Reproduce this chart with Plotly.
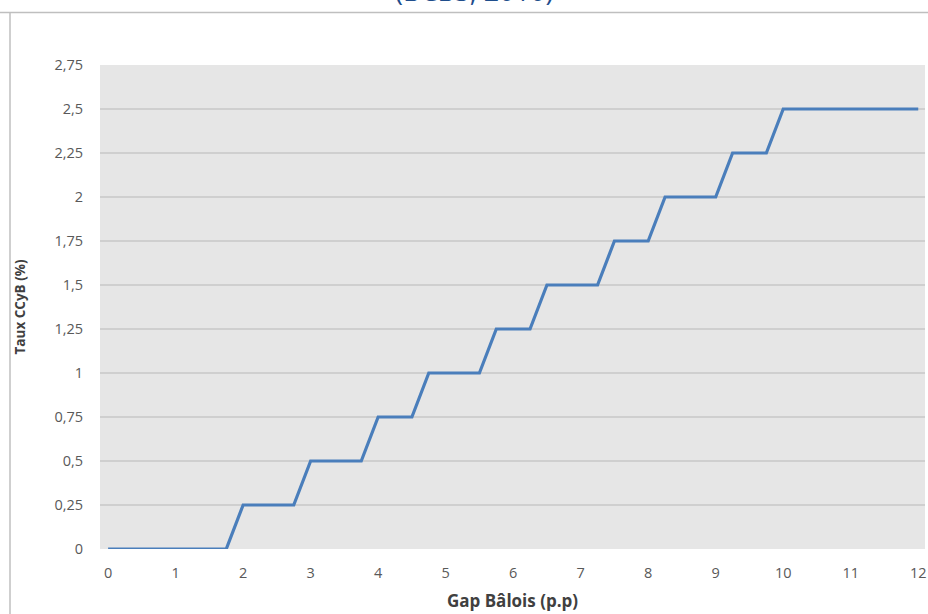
import plotly.graph_objects as go

# Data: CCyB rate as a function of Basel gap (step schedule)
gap_x = [0, 1.75, 2, 2.75, 3, 3.75, 4, 4.5, 4.75, 5.5, 5.75, 6.25, 6.5, 7.25,
         7.5, 8, 8.25, 9, 9.25, 9.75, 10, 12]
ccyb_y = [0, 0, 0.25, 0.25, 0.5, 0.5, 0.75, 0.75, 1, 1, 1.25, 1.25, 1.5, 1.5,
          1.75, 1.75, 2, 2, 2.25, 2.25, 2.5, 2.5]

x_ticks = list(range(0, 13))
y_ticks = [0, 0.25, 0.5, 0.75, 1, 1.25, 1.5, 1.75, 2, 2.25, 2.5, 2.75]
y_tick_labels = ["0", "0,25", "0,5", "0,75", "1", "1,25", "1,5", "1,75", "2",
                 "2,25", "2,5", "2,75"]

fig = go.Figure()
fig.add_trace(go.Scatter(
    x=gap_x, y=ccyb_y, mode="lines",
    line=dict(color="#4a7ebb", width=3.2),
    hoverinfo="skip", showlegend=False,
))

L, R, T, B = 100, 3, 65, 65
W, H = 928, 614
pw = W - L - R
ph = H - T - B

fig.update_layout(
    width=W, height=H,
    margin=dict(l=L, r=R, t=T, b=B, autoexpand=False),
    paper_bgcolor="white",
    plot_bgcolor="#e6e6e6",
    font=dict(family="Open Sans", color="#595959", size=14),
    xaxis=dict(
        range=[-0.12, 12.1],
        tickmode="array", tickvals=x_ticks,
        showgrid=False, zeroline=False, showline=False,
        ticks="", ticklabelstandoff=13,
        tickfont=dict(size=14.5, color="#595959"),
        title=dict(text="<b>Gap Bâlois (p.p)</b>", standoff=14,
                   font=dict(size=17, color="#404040")),
        fixedrange=True,
    ),
    yaxis=dict(
        range=[0, 2.75],
        tickmode="array", tickvals=y_ticks, ticktext=y_tick_labels,
        showgrid=True, gridcolor="#cfcfcf", gridwidth=1.3,
        zeroline=False, showline=False,
        ticks="", ticklabelstandoff=16,
        tickfont=dict(size=14.5, color="#595959"),
        title=dict(text="<b>Taux CCyB (%)</b>", standoff=25,
                   font=dict(size=13.5, color="#404040")),
        fixedrange=True,
    ),
)

def px_to_paper_x(px):
    return (px - L) / pw

def py_to_paper_y(py):
    return 1 - (py - T) / ph

# Outer chart border (partially visible): top and left edges
fig.add_shape(type="line", xref="paper", yref="paper",
              x0=px_to_paper_x(0), x1=px_to_paper_x(W),
              y0=py_to_paper_y(12.5), y1=py_to_paper_y(12.5),
              line=dict(color="#bfbfbf", width=1.5))
fig.add_shape(type="line", xref="paper", yref="paper",
              x0=px_to_paper_x(10), x1=px_to_paper_x(10),
              y0=py_to_paper_y(12.5), y1=py_to_paper_y(H),
              line=dict(color="#bfbfbf", width=1.5))

# Partially cut-off caption at top
fig.add_annotation(
    text="(BCBS, 2010)", xref="paper", yref="paper",
    x=px_to_paper_x(474), y=py_to_paper_y(-10),
    xanchor="center", yanchor="middle", showarrow=False,
    font=dict(family="Open Sans", size=27, color="#1f4e8c"),
)

fig.write_html(
    "out.html",
    config={"displayModeBar": False, "staticPlot": True},
    post_script="document.body.style.margin='0';document.body.style.padding='0';",
)
